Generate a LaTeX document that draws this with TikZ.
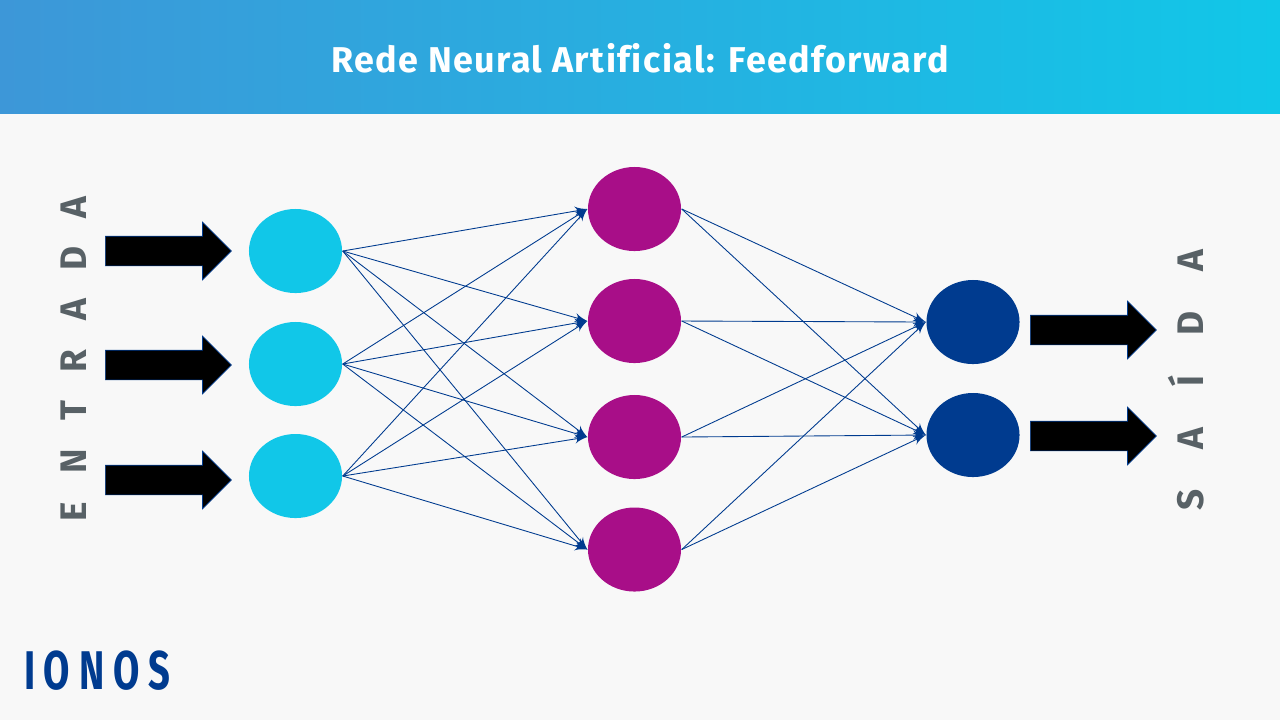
\documentclass[tikz,border=0pt]{standalone}
\usepackage{fontspec}
\setmainfont{Fira Sans}[Ligatures=NoCommon]
\usepackage{tikz}
\usetikzlibrary{arrows, shapes, positioning}
\definecolor{ionosnavy}{RGB}{0, 59, 143}
\definecolor{ionoscyan}{RGB}{17, 199, 232}
\definecolor{ionosblue}{RGB}{61, 151, 216}
\definecolor{ionospurple}{RGB}{168, 14, 136}
\definecolor{ionosgrey}{RGB}{88, 97, 102}
\definecolor{ionospaper}{RGB}{248, 248, 248}
\tikzset{
    neuron/.style={ellipse, minimum width=.93cm, minimum height=.84cm, inner sep=0pt},
    bigarrow/.style={single arrow, draw=ionosnavy, line width=.2pt, fill=black, inner xsep=0pt, inner ysep=.145cm,
        minimum height=1.26cm, single arrow head extend=.14cm, anchor=west},
    sidelabel/.style={rotate=90, text=ionosgrey, font=\bfseries\fontsize{10.5}{12}\selectfont}
}
\begin{document}
\begin{tikzpicture}[>=latex', x=.01cm, y=-.01cm]
    \useasboundingbox (0,0) rectangle (1280,720);
    \fill[ionospaper] (0,0) rectangle (1280,720);
    \shade[left color=ionosblue, right color=ionoscyan] (0,0) rectangle (1280,113.7);
    \node[text=white, font=\bfseries\fontsize{10.2}{13}\selectfont\addfontfeature{LetterSpace=4}] (title) at (640,58.5) {Rede Neural Artificial: Feedforward};

    % neurons
    \node[neuron, fill=ionoscyan] (in1) at (295.5,251) {};
    \node[neuron, fill=ionoscyan] (in2) at (295.5,364) {};
    \node[neuron, fill=ionoscyan] (in3) at (295.5,476) {};
    \node[neuron, fill=ionospurple] (hid1) at (634.5,209) {};
    \node[neuron, fill=ionospurple] (hid2) at (634.5,321) {};
    \node[neuron, fill=ionospurple] (hid3) at (634.5,437) {};
    \node[neuron, fill=ionospurple] (hid4) at (634.5,549.5) {};
    \node[neuron, fill=ionosnavy] (out1) at (973,322) {};
    \node[neuron, fill=ionosnavy] (out2) at (973,435) {};

    % connections
    \foreach \i in {1,2,3}
        \foreach \j in {1,2,3,4}
            \draw[->, ionosnavy, line width=.25pt] (in\i.east) -- (hid\j.west);
    \foreach \j in {1,2,3,4}
        \foreach \k in {1,2}
            \draw[->, ionosnavy, line width=.25pt] (hid\j.east) -- (out\k.west);

    % big arrows
    \node[bigarrow] (arrin1) at (105,251) {};
    \node[bigarrow] (arrin2) at (105,365) {};
    \node[bigarrow] (arrin3) at (105,480) {};
    \node[bigarrow] (arrout1) at (1030,330) {};
    \node[bigarrow] (arrout2) at (1030,436) {};

    \node[sidelabel] (entrada) at (74,359) {\addfontfeature{LetterSpace=77}ENTRADA};
    \node[sidelabel] (saida) at (1186,380) {\addfontfeature{LetterSpace=110}SAÍDA};

    \node[text=ionosnavy, font=\bfseries\fontsize{15.5}{18}\selectfont\addfontfeature{LetterSpace=16,FakeStretch=.7}] (logo) at (97,671) {IONOS};
\end{tikzpicture}
\end{document}
